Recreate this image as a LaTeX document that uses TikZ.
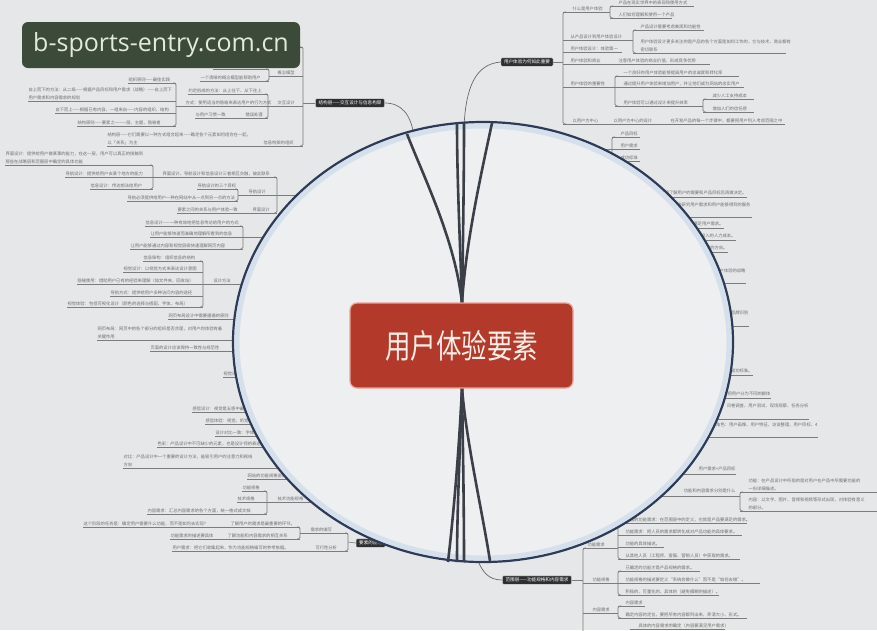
\documentclass[tikz,border=0pt]{standalone}
\usepackage{fontspec}
\setmainfont{Noto Sans CJK SC}
\newfontfamily\wmfont{Open Sans}
\usetikzlibrary{calc}
\definecolor{bgc}{HTML}{E5E7E8}
\definecolor{inc}{HTML}{EDEFF1}
\definecolor{rimc}{HTML}{2C3B58}
\definecolor{glowc}{HTML}{D5E0EC}
\definecolor{txc}{HTML}{6E6E6E}
\definecolor{ulc}{HTML}{7C7C7C}
\definecolor{darkn}{HTML}{2F2F2F}
\definecolor{redc}{HTML}{B33A2B}
\definecolor{redb}{HTML}{E9A597}
\definecolor{ctxt}{HTML}{F8EEE8}
\definecolor{wmc}{HTML}{3C4A39}
\definecolor{wmt}{HTML}{E3EADB}
\definecolor{linec}{HTML}{3A3F48}
\definecolor{thinc}{HTML}{6A6A6A}
\newcounter{tn}
\newcommand\mmT[5]{\stepcounter{tn}\node[tx,anchor=south west] (t\thetn) at (#1,#4-0.6) {#5};\draw[ul] (#2,#4) -- (#3,#4);}
\newcommand\mmN[3]{\stepcounter{tn}\node[tx,anchor=south west] (t\thetn) at (#1,#2-0.6) {#3};}
\newcommand\mmE[3]{\stepcounter{tn}\node[tx,anchor=south east,align=right] (t\thetn) at (#1,#2-0.6) {#3};}
\newcommand\mmBL[3]{\draw[brk] (#1-3,#2) -| (#1,#3) -- (#1-3,#3);}
\newcommand\mmBR[3]{\draw[brk] (#1+3,#2) -| (#1,#3) -- (#1+3,#3);}
\tikzset{
 tx/.style={font=\fontsize{4.3}{8}\selectfont, text=txc, inner sep=0.3pt, align=left},
 ul/.style={draw=ulc, line width=0.6pt},
 brk/.style={draw=ulc, line width=0.6pt, rounded corners=1.6pt},
 dnode/.style={fill=darkn, text=white, font=\fontsize{4.6}{5}\selectfont, rounded corners=1pt, inner xsep=3pt, inner ysep=2pt, draw=white!60!gray, line width=0.3pt},
 thk/.style={draw=linec, line width=2.6pt},
 thn/.style={draw=thinc, line width=0.7pt},
}
\begin{document}
\begin{tikzpicture}[x=1pt,y=-1pt]
\useasboundingbox (0,0) rectangle (877,630);
\fill[bgc] (0,0) rectangle (877,630);

% ===== top-left branch =====
\node[dnode] (n2) at (350,103) {结构层——交互设计与信息构架};
\draw[ul] (303,103) -- (n2.west);
\mmBL{303}{47}{146}
\draw[ul] (205,47) -- (303,47);
\mmT{277}{269}{303}{76}{概念模型}
\mmBL{269}{69}{81}
\mmT{213}{213}{269}{69}{在用户心中的概念模型}
\mmT{200}{200}{269}{81}{一个清晰的概念模型能帮助用户}
\mmT{277}{268}{303}{106}{交互设计}
\mmBL{268}{94}{118}
\mmT{188}{188}{268}{94}{约定俗成的方法：从上往下、从下往上}
\mmT{185}{176}{268}{106}{方式：使用适当的隐喻来表达用户的行为方式}
\mmT{195}{195}{268}{118}{与用户习惯一致}
\mmN{245}{118}{错误处理}
\mmBL{176}{83}{126}
\mmT{128}{128}{176}{83}{组织原则——最佳实践}
\mmT{28}{28}{176}{101}{自上而下的方法：从二级——根据产品目标和用户需求（战略）——自上而下\\用户需求和内容需求的规划}
\mmT{55}{55}{176}{113}{自下而上——根据已有内容、一组来自——内容的组织、结构}
\mmT{77}{77}{176}{126}{结构原则——要素之一——层、主题、隐喻者}
\mmT{263}{107}{303}{146}{信息构架的组织}
\mmN{107}{146}{结构层——它们需要以一种方式组合起来——确定各个元素如何组合在一起，\\以「关系」为主}

% ===== left middle =====
\mmBL{153}{165}{189}
\mmT{5}{5}{153}{165}{界面设计：提供给用户做某事的能力，在这一层，用户可以真正的接触到\\那些在战略层和范围层中确定的具体功能}
\mmT{65}{65}{153}{177}{导航设计：提供给用户去某个地方的能力}
\mmT{90}{90}{153}{189}{信息设计：传达想法给用户}
\mmT{162}{153}{277}{177}{界面设计、导航设计和信息设计三者相互交融，彼此联系}
\mmBL{277}{177}{213}
\draw[ul] (277,195) -- (305,195);
\mmT{248}{238}{277}{195}{导航设计}
\mmBL{238}{189}{201}
\mmT{197}{197}{238}{189}{导航设计的三个目标}
\mmT{127}{127}{238}{201}{导航必须提供给用户一种在网站中从一点到另一点的方法}
\mmT{252}{177}{277}{213}{界面设计}
\mmN{177}{213}{要素之间的关系与用户体验一致}

\mmBL{243}{226}{249}
\draw[ul] (243,237.5) -- (280,237.5);
\mmT{145}{145}{243}{226}{信息设计——一种有效地把信息传达给用户的方式}
\mmT{150}{150}{243}{237}{让用户能够快速而准确地理解所看到的信息}
\mmT{130}{130}{243}{249}{让用户能够通过内容和视觉层级快速理解网页内容}

\mmBL{203}{261}{307}
\mmT{213}{203}{262}{284}{设计方法}
\mmT{143}{143}{203}{261}{信息架构：组织信息的结构}
\mmT{123}{123}{203}{272}{视觉设计：以视觉方式来表达设计意图}
\mmT{77}{77}{203}{284}{隐喻使用：借助用户已有的经验来理解（如文件夹、回收站）}
\mmT{110}{110}{203}{296}{导航方式：提供给用户多种访问内容的途径}
\mmT{67}{67}{203}{307}{视觉体验：包括可视化设计（颜色的选择与搭配、字体、布局）}
\mmT{168}{168}{300}{319}{网页布局设计中需要遵循的原则}
\mmT{97}{97}{300}{340}{网页布局：网页中的各个部分的组织是否合理，对用户的体验有着\\关键作用}
\mmT{150}{150}{300}{351}{页面的设计应该保持一致性与规范性}

% ===== bottom left =====
\mmT{223}{223}{300}{377}{视觉设计}
\mmT{192}{192}{300}{412}{感官设计：视觉是五感中最重要的部分}
\mmT{205}{205}{300}{424}{感官体验：视觉、听觉、触觉}
\mmT{215}{215}{300}{436}{设计对比一致：字体}
\mmT{157}{157}{300}{447}{色彩：产品设计中不可缺少的元素，也是设计师的表达手段}
\mmT{123}{123}{300}{468}{对比：产品设计中一个重要的设计方法，能吸引用户的注意力和视线\\方向}
\mmT{247}{247}{320}{479}{网站的功能规格说明}
\mmBL{267}{491}{514}
\mmT{277}{267}{330}{502}{技术功能规格}
\mmT{242}{242}{267}{491}{功能规格}
\mmT{237}{237}{267}{502}{技术规格}
\mmT{147}{147}{267}{514}{内容需求：汇总内容需求的各个方面，统一格式成文档}
\mmBL{300}{527}{539}
\mmT{310}{300}{348}{533}{需求的编写}
\mmT{230}{83}{300}{527}{了解用户的需求是最重要的环节。}
\mmN{83}{527}{这个阶段的任务是：确定用户需要什么功能，而不是如何去实现？}
\mmT{227}{170}{300}{539}{了解功能和内容需求的相互关系}
\mmN{170}{539}{功能需求的描述要具体}
\mmT{315}{172}{348}{551}{可行性分析}
\mmN{172}{551}{用户需求：把它们收集起来，作为功能规格编写的参考依据。}
\mmBL{348}{533}{551}
\node[dnode, anchor=west] (n3) at (356,543) {要素的应用};
\draw[ul] (348,542) -- (n3.west);

% ===== top right branch =====
\node[dnode] (n1) at (527,62) {用户体验为何如此重要};
\draw[ul] (n1.east) -- (563,62);
\mmBR{563}{12}{124}
\mmT{572}{563}{610}{12}{什么是用户体验}
\mmBR{610}{6}{18}
\mmT{618}{610}{694}{6}{产品在现实世界中的表现和使用方式}
\mmT{618}{610}{672}{18}{人们如何理解和使用一个产品}
\mmT{570}{563}{633}{40}{从产品设计到用户体验设计}
\mmBR{633}{30}{53}
\mmT{640}{633}{704}{30}{产品设计需要考虑美观和功能性}
\mmT{640}{633}{786}{53}{用户体验设计更多关注的是产品的各个方面是如何工作的，它与技术、商业都有\\密切联系}
\mmT{570}{563}{622}{52}{用户体验设计：体验第一}
\mmT{570}{563}{613}{64}{用户体验和商业}
\mmT{618}{613}{710}{64}{注意用户体验的商业价值，形成竞争优势}
\mmT{570}{563}{615}{87}{用户体验的重要性}
\mmBR{615}{76}{106}
\mmT{623}{615}{739}{76}{一个良好的用户体验能够提高用户的忠诚度和转化率}
\mmT{623}{615}{744}{87}{通过提升用户体验来增加用户，并让他们成为网站的忠实用户}
\mmT{623}{615}{703}{106}{用户体验可以通过设计来提升效率}
\mmBR{703}{99}{112}
\mmT{712}{703}{754}{99}{减少人工支持成本}
\mmT{712}{703}{754}{112}{增加人们的信任感}
\mmT{572}{563}{785}{124}{以用户为中心}
\mmN{613}{124}{以用户为中心的设计}
\mmN{670}{124}{在开发产品的每一个步骤中，都要把用户列入考虑范围之中}

% strategy group (parent hidden)
\mmBR{612}{137}{161}
\draw[ul] (560,149) -- (612,149);
\mmT{620}{612}{640}{137}{产品目标}
\mmT{620}{612}{640}{149}{用户需求}
\mmT{620}{612}{640}{161}{成功标准}

% right groups partly hidden
\mmE{747}{196}{网站目标：明确了解用户的需要和产品目标后再做决定。}
\draw[ul] (600,197) -- (747,197);
\mmE{751}{208}{通过用户细分来研究用户需求和用户能够得到的服务}
\draw[ul] (600,217) -- (752,217);
\mmE{724}{227}{与技术的可行性相结合，以满足用户需求。}
\draw[ul] (600,228) -- (724,228);
\mmE{736}{239}{确定产品开发需要投入的人力成本。}
\draw[ul] (600,240) -- (736,240);
\mmE{728}{251}{决定产品的方向。}
\draw[ul] (600,252) -- (728,252);
\mmE{746}{274}{了解用户体验的战略}
\draw[ul] (600,283) -- (746,283);
\mmE{749}{316}{品牌识别}
\draw[ul] (600,326) -- (749,326);
\mmE{753}{374}{确定成功标准。}
\draw[ul] (600,375) -- (753,375);
\mmE{771}{397}{用户细分：把用户分为不同的群体}
\draw[ul] (600,398) -- (771,398);
\mmE{809}{409}{用户研究：问卷调查、用户测试、现场观察、任务分析}
\draw[ul] (600,419) -- (809,419);
\mmE{818}{428}{创建人物角色：用户画像、用户特征、访谈整理、用户目标、4}
\draw[ul] (600,437) -- (818,437);
\mmE{736}{472}{用户需求+产品目标}
\draw[ul] (600,474) -- (736,474);
\mmE{736}{494}{功能和内容需求分别是什么}
\draw[ul] (600,496) -- (740,496);
\mmBR{740}{492}{511}
\mmT{748}{740}{877}{492}{功能：在产品设计中所指的是对用户在产品中所需要功能的\\一份详细描述。}
\mmT{748}{740}{877}{511}{内容：以文字、图片、音频和视频等形式出现，对体验有意义\\的部分。}

% ===== bottom right branch =====
\node[dnode] (n4) at (537,580) {范围层——功能规格和内容需求};
\draw[ul] (n4.east) -- (583,580);
\mmBR{583}{548}{640}
\mmT{587}{583}{618}{548}{功能需求}
\mmBR{618}{523}{559}
\mmT{625}{618}{747}{523}{产品的功能需求：在范围层中的定义，也就是产品要满足的需求。}
\mmT{625}{618}{742}{535}{功能需求：把人员的需求都转化成对产品功能的具体要求。}
\mmT{625}{618}{664}{547}{功能的具体描述。}
\mmT{625}{618}{740}{559}{从其他人员（工程师、客服、营销人员）中获取的需求。}
\mmT{592}{583}{618}{583}{功能规格}
\mmBR{618}{571}{595}
\mmT{625}{618}{700}{571}{已确定的功能才是产品规格的需求。}
\mmT{625}{618}{760}{583}{功能规格的描述要定义“系统会做什么”而不是“如何去做”。}
\mmT{625}{618}{719}{595}{积极的、可量化的、具体的（避免模糊的描述）。}
\mmT{592}{583}{618}{613}{内容需求}
\mmBR{618}{606}{618}
\mmT{625}{618}{645}{606}{内容需求}
\mmT{625}{618}{747}{618}{确定内容的定位，要把所有内容都列出来，弄清大小、形式。}
\mmT{638}{630}{725}{629}{具体的内容需求的确定（内容要满足用户需求）}

% thin connectors from hub to branch nodes
\draw[thn] (464,126) .. controls (466,88) and (475,64) .. (n1.west);
\draw[thn] (n2.east) .. controls (402,103) and (411,115) .. (414,136);
\draw[thn] (476,556) .. controls (482,572) and (488,580) .. (n4.west);

% ===== lens ellipse =====
\fill[inc] (483,342) ellipse [x radius=250pt, y radius=220pt];
\draw[glowc, line width=5pt] (483,342) ellipse [x radius=246pt, y radius=216pt];
\draw[rimc, line width=2.2pt] (483,342) ellipse [x radius=250pt, y radius=220pt];

% thick connectors inside lens
\coordinate (ct) at (462,303);
\coordinate (cb) at (462,388);
\coordinate (u1) at (407,134);
\coordinate (u2) at (457,123);
\coordinate (u3) at (464,122.5);
\coordinate (u4) at (492,123);
\coordinate (d1) at (448,562);
\coordinate (d2) at (457,562);
\coordinate (d3) at (464,562);
\coordinate (d4) at (490,561);
\draw[thk] (ct) .. controls (455,240) and (425,180) .. (u1);
\draw[thk] (ct) .. controls (460,240) and (457,180) .. (u2);
\draw[thk] (ct) .. controls (463,240) and (464,180) .. (u3);
\draw[thk] (ct) .. controls (466,240) and (482,170) .. (u4);
\draw[thk] (cb) .. controls (459,450) and (454,510) .. (d1);
\draw[thk] (cb) .. controls (460,450) and (457,510) .. (d2);
\draw[thk] (cb) .. controls (463,450) and (464,510) .. (d3);
\draw[thk] (cb) .. controls (466,440) and (482,510) .. (d4);

% central node
\node[draw=redb, line width=1.2pt, fill=redc, rounded corners=7pt, minimum width=223pt, minimum height=85pt, inner sep=0pt] (c) at (461.5,345.5) {\scalebox{1}[1.3]{\fontsize{25.5}{30}\selectfont\color{ctxt}用户体验要素}};

% watermark
\node[fill=wmc, rounded corners=6pt, minimum width=278pt, minimum height=46pt, inner sep=0pt, text=wmt, font=\wmfont\fontsize{25}{28}\selectfont] (wm) at (161,45) {b-sports-entry.com.cn};
\end{tikzpicture}
\end{document}
